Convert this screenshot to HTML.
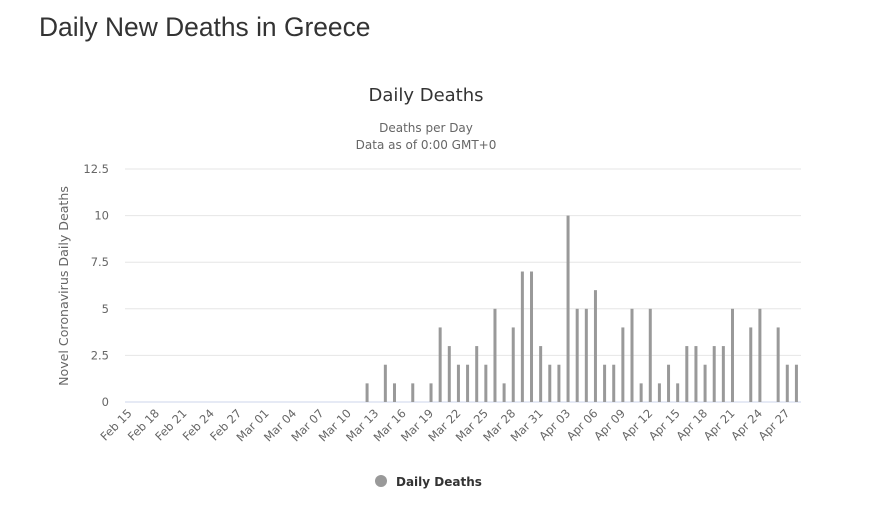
<!DOCTYPE html>
<html><head><meta charset="utf-8"><style>
body{margin:0;background:#fff;width:876px;height:528px;overflow:hidden}
h1{position:absolute;left:39px;top:12px;margin:0;font:26.4px "Liberation Sans",sans-serif;color:#333}
svg{position:absolute;left:0;top:0}
</style></head><body>
<h1>Daily New Deaths in Greece</h1>
<svg id="s" width="876" height="528" xmlns="http://www.w3.org/2000/svg" font-family="DejaVu Sans, sans-serif">
<text x="426" y="101" text-anchor="middle" font-size="18" fill="#333">Daily Deaths</text>
<text x="426" y="132" text-anchor="middle" font-size="12" fill="#666">Deaths per Day</text>
<text x="426" y="149" text-anchor="middle" font-size="12" fill="#666">Data as of 0:00 GMT+0</text>
<text transform="translate(68,286) rotate(-90)" text-anchor="middle" font-size="12.6" fill="#666">Novel Coronavirus Daily Deaths</text>
<circle cx="381" cy="481" r="6" fill="#999"/>
<text x="396" y="486" font-size="12" font-weight="bold" fill="#333">Daily Deaths</text>
</svg>
<script>
var s=document.getElementById('s'),h='';
var y0=402,u=18.64,x0=125,w=676/74;
[0,2.5,5,7.5,10,12.5].forEach(function(v){var y=y0-v*u;
h+='<line x1="125" x2="801" y1="'+y+'" y2="'+y+'" stroke="'+(v?'#e6e6e6':'#ccd6eb')+'" stroke-width="1"/>';
h+='<text x="109" y="'+(y+4)+'" text-anchor="end" font-size="11.5" fill="#666">'+v+'</text>';});
var d={26:1,28:2,29:1,31:1,33:1};
[4,3,2,2,3,2,5,1,4,7,7,3,2,2,10,5,5,6,2,2,4,5,1,5,1,2,1,3,3,2,3,3,5,0,4,5,0,4,2,2].forEach(function(v,i){d[34+i]=v;});
for(var k in d){if(!d[k])continue;var cx=x0+(+k+0.5)*w;h+='<rect x="'+(cx-1.5)+'" y="'+(y0-d[k]*u)+'" width="3" height="'+(d[k]*u)+'" fill="#999"/>';}
var m=['Feb','Mar','Apr'],st=[0,15,46];
for(var i=0;i<74;i+=3){var mo=i<15?0:i<46?1:2,day=mo==0?15+i:i-st[mo]+1;var lbl=m[mo]+' '+(day<10?'0'+day:day);
var cx=x0+(i+0.5)*w;h+='<text transform="translate('+(cx+3)+',414) rotate(-45)" text-anchor="end" font-size="11.5" fill="#666">'+lbl+'</text>';}
s.insertAdjacentHTML('beforeend',h);
</script>
</body></html>
